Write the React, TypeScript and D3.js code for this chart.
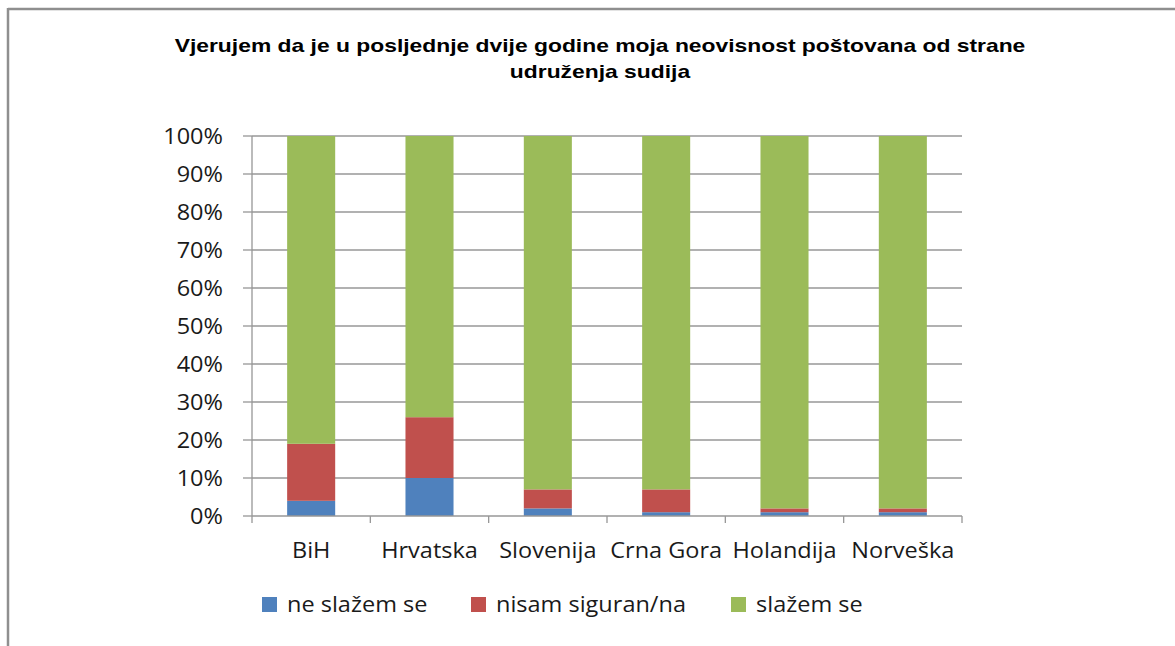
import * as d3 from "d3";

const categories = ["BiH", "Hrvatska", "Slovenija", "Crna Gora", "Holandija", "Norveška"];
const neSlazem = [4, 10, 2, 1, 1, 1];
const nisamSiguran = [15, 16, 5, 6, 1, 1];
const slazem = [81, 74, 93, 93, 98, 98];
const seriesNames = ["ne slažem se", "nisam siguran/na", "slažem se"];
const yTicks = [0, 10, 20, 30, 40, 50, 60, 70, 80, 90, 100];
const titleLines = [
  "Vjerujem da je u posljednje dvije godine moja neovisnost poštovana od strane",
  "udruženja sudija",
];

const W = 1175;
const H = 646;
const boje = ["#4F81BD", "#C0504D", "#9BBB59"];
const kljucevi = ["a", "b", "c"];
const plot = { left: 252, right: 962, top: 136, bottom: 516 };
const FONT = "'Open Sans', sans-serif";
const SX = 1.12; // tekst je razvučen po širini

export default function App() {
  const redovi = categories.map((c, i) => ({ cat: c, a: neSlazem[i], b: nisamSiguran[i], c: slazem[i] }));
  const stek = d3.stack<any>().keys(kljucevi)(redovi);

  const x = d3
    .scaleBand()
    .domain(categories)
    .range([plot.left, plot.right])
    .paddingInner(0.594)
    .paddingOuter(0.297);
  const y = d3.scaleLinear().domain([0, 100]).range([plot.bottom, plot.top]);
  const korak = x.step();
  const granice = d3.range(categories.length + 1).map((i) => plot.left + i * korak);
  const legendaX = [262, 471, 731];

  return (
    <div style={{ position: "absolute", left: 0, top: 0 }}>
      <svg width={W} height={H} viewBox={`0 0 ${W} ${H}`} style={{ display: "block", background: "#fff" }}>
        <rect x={0} y={0} width={W} height={H} fill="#fff" />
        {/* okvir */}
        <line x1={8} y1={9} x2={W} y2={9} stroke="#8f8f8f" strokeWidth={2.5} />
        <line x1={8} y1={8} x2={8} y2={H} stroke="#8f8f8f" strokeWidth={2.5} />

        {/* naslov */}
        {titleLines.map((t, i) => (
          <text
            key={t}
            transform={`translate(600,${52 + i * 26}) scale(1.27,1)`}
            textAnchor="middle"
            fontFamily="'Liberation Sans', Arial, sans-serif"
            fontWeight="bold"
            fontSize={18}
            fill="#000"
          >
            {t}
          </text>
        ))}

        {/* mreža */}
        {yTicks.slice(1).map((t) => (
          <line key={t} x1={plot.left} x2={plot.right} y1={y(t)} y2={y(t)} stroke="#979797" strokeWidth={1.3} />
        ))}

        {/* stubovi */}
        {stek.map((s, si) => (
          <g key={s.key} fill={boje[si]}>
            {s.map((d: any) => (
              <rect
                key={d.data.cat}
                x={x(d.data.cat)}
                y={y(d[1])}
                width={x.bandwidth()}
                height={y(d[0]) - y(d[1])}
              />
            ))}
          </g>
        ))}

        {/* osa y */}
        <line x1={plot.left} x2={plot.left} y1={plot.top} y2={plot.bottom} stroke="#979797" strokeWidth={1.3} />
        {yTicks.map((t) => (
          <g key={t}>
            <line x1={plot.left - 9} x2={plot.left} y1={y(t)} y2={y(t)} stroke="#979797" strokeWidth={1.3} />
            <text
              transform={`translate(223,${y(t) + 7.5}) scale(${SX},1)`}
              textAnchor="end"
              fontFamily={FONT}
              fontSize={21}
              fill="#1a1a1a"
            >
              {t}%
            </text>
          </g>
        ))}

        {/* osa x */}
        <line x1={plot.left} x2={plot.right} y1={plot.bottom} y2={plot.bottom} stroke="#979797" strokeWidth={1.3} />
        {granice.map((g, i) => (
          <line key={i} x1={g} x2={g} y1={plot.bottom} y2={plot.bottom + 7} stroke="#979797" strokeWidth={1.3} />
        ))}
        {categories.map((c) => (
          <text
            key={c}
            transform={`translate(${(x(c) || 0) + x.bandwidth() / 2},558) scale(${SX},1)`}
            textAnchor="middle"
            fontFamily={FONT}
            fontSize={21}
            fill="#1a1a1a"
          >
            {c}
          </text>
        ))}

        {/* legenda */}
        {seriesNames.map((n, i) => (
          <g key={n}>
            <rect x={legendaX[i]} y={597} width={15} height={15} fill={boje[i]} />
            <text
              transform={`translate(${legendaX[i] + 25},612) scale(${SX},1)`}
              fontFamily={FONT}
              fontSize={21}
              fill="#1a1a1a"
            >
              {n}
            </text>
          </g>
        ))}
      </svg>
    </div>
  );
}
